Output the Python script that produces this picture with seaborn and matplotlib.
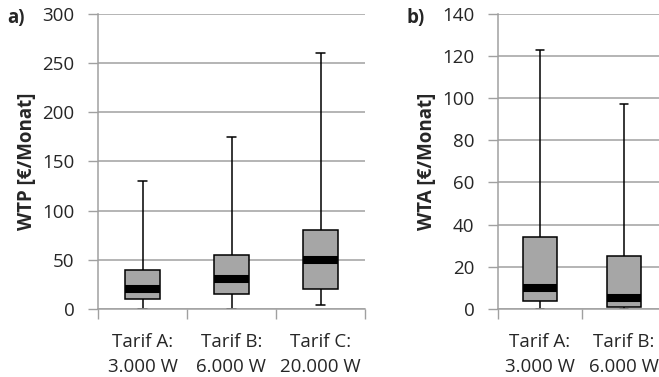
import numpy as np
import pandas as pd
import matplotlib
matplotlib.use("Agg")
import matplotlib.pyplot as plt
import seaborn as sns

# ---- data (five-number summaries) ----
wtp_categories = ["Tarif A:\n3.000 W", "Tarif B:\n6.000 W", "Tarif C:\n20.000 W"]
wtp_min = [0, 0, 4]
wtp_q1 = [10, 15, 20]
wtp_median = [20, 30, 50]
wtp_q3 = [40, 55, 80]
wtp_max = [130, 175, 260]
wtp_yticks = [0, 50, 100, 150, 200, 250, 300]

wta_categories = ["Tarif A:\n3.000 W", "Tarif B:\n6.000 W"]
wta_min = [0, 0]
wta_q1 = [4, 1]
wta_median = [10, 5]
wta_q3 = [34, 25]
wta_max = [123, 97]
wta_yticks = [0, 20, 40, 60, 80, 100, 120, 140]


def long_frame(cats, mn, q1, med, q3, mx):
    rows = []
    for c, a, b, m, d, e in zip(cats, mn, q1, med, q3, mx):
        for v in (a, b, m, d, e):
            rows.append({"cat": c, "value": v})
    return pd.DataFrame(rows)


sns.set_style("white")
plt.rcParams["font.family"] = ["Open Sans", "DejaVu Sans"]

W, H = 659, 377
fig = plt.figure(figsize=(W / 100, H / 100), dpi=100)

GRID = "#a0a0a0"
FILL = "#a6a6a6"
FS = 13.5
LFS = 13.5


def panel(rect, cats, mn, q1, med, q3, mx, yticks, ylabel, ylabel_x, tag, tag_x):
    ax = fig.add_axes(rect)
    df = long_frame(cats, mn, q1, med, q3, mx)
    sns.boxplot(data=df, x="cat", y="value", order=cats, ax=ax,
                width=0.4, whis=(0, 100), color=FILL, linecolor="black",
                linewidth=1.1, fliersize=0, saturation=1,
                medianprops=dict(color="black", linewidth=5.8, solid_capstyle="butt"),
                capwidths=0.09)
    n = len(cats)
    ax.set_xlim(-0.5, n - 0.5)
    ax.set_ylim(yticks[0], yticks[-1])
    ax.set_yticks(yticks)
    ax.yaxis.grid(True, color=GRID, linewidth=1.1)
    ax.set_axisbelow(True)
    ax.set_xticks(np.arange(n + 1) - 0.5)
    ax.set_xticklabels([""] * (n + 1))
    ax.set_xticks(np.arange(n), minor=True)
    ax.set_xticklabels(cats, minor=True, fontsize=FS, linespacing=1.5)
    ax.tick_params(axis="x", which="major", length=7, width=1, color=GRID, bottom=True)
    ax.tick_params(axis="x", which="minor", length=0, pad=17, bottom=True)
    ax.tick_params(axis="y", length=7, width=1, color=GRID, left=True, labelsize=FS, pad=10)
    for s in ("top", "right"):
        ax.spines[s].set_visible(False)
    for s in ("left", "bottom"):
        ax.spines[s].set_color(GRID)
        ax.spines[s].set_linewidth(1.1)
    ax.set_xlabel("")
    ax.set_ylabel(ylabel, fontsize=LFS, fontweight="bold")
    ax.yaxis.label.set_va("center")
    ax.yaxis.set_label_coords(ylabel_x, 0.5)
    fig.text(tag_x / W, 1 - 18 / H, tag, fontsize=LFS, fontweight="bold", va="center", ha="left")
    return ax


bottom = (H - 309) / H
height = (309 - 13.7) / H

ax1 = panel([98 / W, bottom, 267 / W, height], wtp_categories, wtp_min, wtp_q1,
            wtp_median, wtp_q3, wtp_max, wtp_yticks, "WTP [€/Monat]", (27 - 98) / 267, "a)", 7)
ax2 = panel([498 / W, bottom, 168 / W, height], wta_categories, wta_min, wta_q1,
            wta_median, wta_q3, wta_max, wta_yticks, "WTA [€/Monat]", (427 - 498) / 168, "b)", 406)

fig.savefig("out.png", dpi=100)
